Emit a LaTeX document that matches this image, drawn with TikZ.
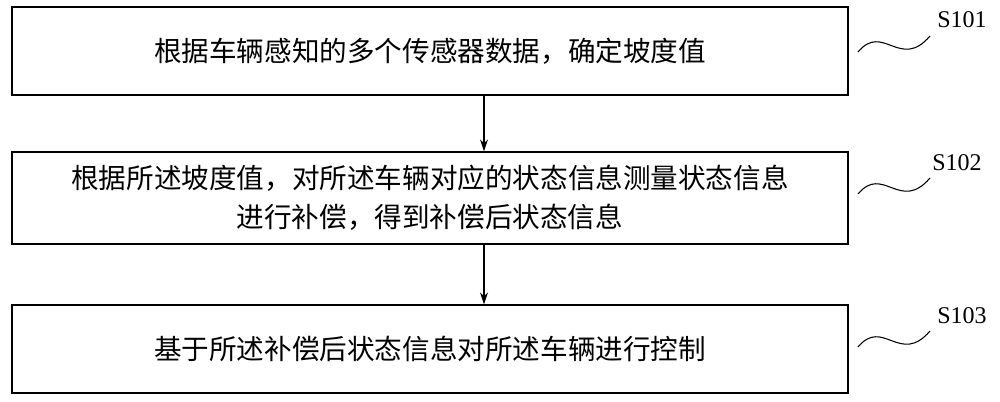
\documentclass[tikz,border=0pt]{standalone}
\usepackage{fontspec}
\setmainfont{Liberation Serif}
\newfontfamily\cjk{Noto Sans CJK SC}
\usetikzlibrary{arrows.meta,calc}
\begin{document}
\begin{tikzpicture}[x=0.75pt,y=-0.75pt,
  stepbox/.style={draw,line width=1pt,minimum width=627pt,minimum height=66pt,inner sep=0pt,align=center,font=\cjk\fontsize{20.7}{29}\selectfont},
  lbl/.style={font=\fontsize{18}{20}\selectfont},
  arr/.style={-{Stealth[length=9pt,width=6pt]},line width=1pt},
  wave/.style={line width=0.8pt}]
\useasboundingbox (0,0) rectangle (1000,402);
\node[stepbox] (b1) at (430,51) {根据车辆感知的多个传感器数据，确定坡度值};
\node[stepbox,minimum height=69pt] (b2) at (430,198) {根据所述坡度值，对所述车辆对应的状态信息测量状态信息\\进行补偿，得到补偿后状态信息};
\node[stepbox] (b3) at (430,349) {基于所述补偿后状态信息对所述车辆进行控制};
\draw[arr] (b1.south -| 484,0) -- (b2.north -| 484,0);
\draw[arr] (b2.south -| 484,0) -- (b3.north -| 484,0);
\node[lbl] (s1) at (962,20) {S101};
\node[lbl] (s2) at (957,163) {S102};
\node[lbl] (s3) at (962,316) {S103};
\coordinate (w1a) at (858,52); \coordinate (w1b) at (930,36);
\coordinate (w2a) at (858,194); \coordinate (w2b) at (930,178);
\coordinate (w3a) at (858,347); \coordinate (w3b) at (930,331);
\foreach \a/\b in {w1a/w1b,w2a/w2b,w3a/w3b}{
  \draw[wave] (\a) .. controls ($(\a)+(25,-30)$) and ($(\b)+(-30,35)$) .. (\b);
}
\end{tikzpicture}
\end{document}
